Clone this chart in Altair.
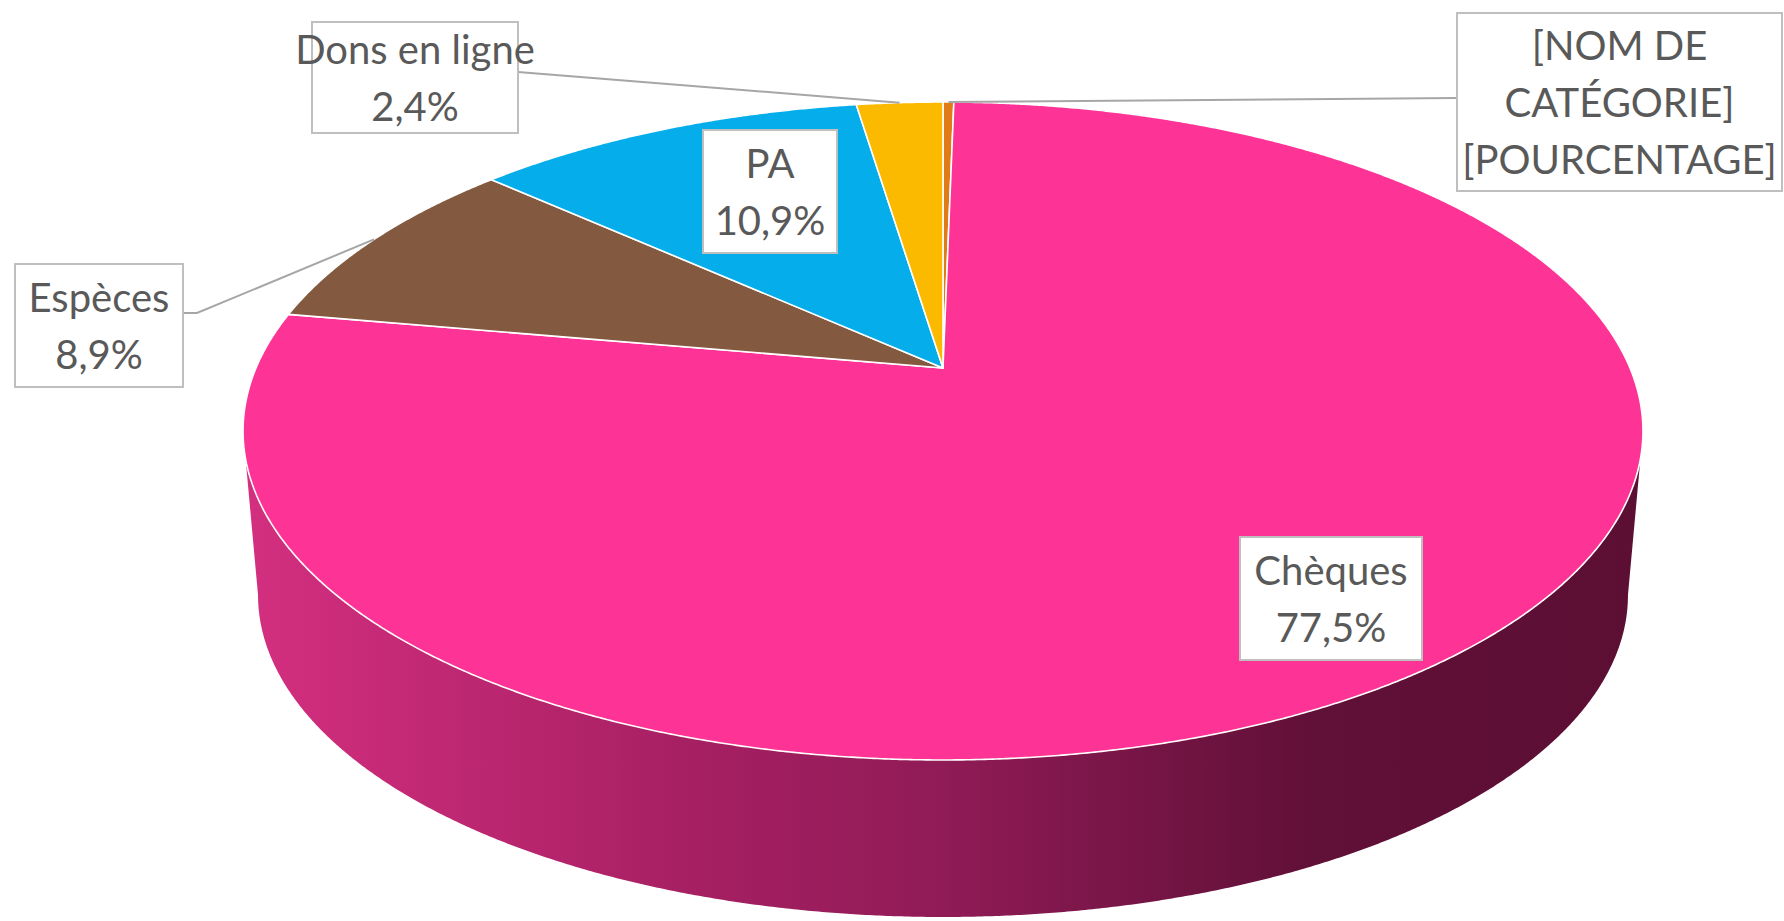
import math
import altair as alt
import pandas as pd

# ---------------- data ----------------
categories = ["[NOM DE CATÉGORIE]", "Chèques", "Espèces", "PA", "Dons en ligne"]
values = [0.3, 77.5, 8.9, 10.9, 2.4]
colors = ["#E07B18", "#FD3396", "#835A3F", "#05AEEA", "#FBBA00"]
label_lines = [
    ["[NOM DE", "CATÉGORIE]", "[POURCENTAGE]"],
    ["Chèques", "77,5%"],
    ["Espèces", "8,9%"],
    ["PA", "10,9%"],
    ["Dons en ligne", "2,4%"],
]

# ---------------- layout (pixels, not data) ----------------
W, H = 1784, 921
CX = 943.0            # apex x
CY_TOP = 368.0        # apex y of top face
CY_BOT = 533.4        # apex y of bottom face
F, G, P = 687.0, 316.9, 0.1915   # perspective projection parameters
S_BOT = 0.9786        # bottom face scale (further from camera)
STEP = 0.25           # degrees per arc point

box_x0 = [1457, 1240, 15, 703, 312]
box_x1 = [1782, 1422, 183, 837, 518]
box_y0 = [13, 537, 264, 130, 22]
box_y1 = [191, 660, 387, 253, 133]
leader_from = [[(1457, 98)], [], [(183, 313), (197, 313)], [], [(518, 72)]]
LINE_H = 57
BASE_OFF = 15


def proj(phi_deg, bottom=False):
    r = math.radians(phi_deg)
    u, v = math.sin(r), math.cos(r)
    d = 1 + P * v
    s = S_BOT if bottom else 1.0
    y0 = CY_BOT if bottom else CY_TOP
    return CX + s * F * u / d, y0 - s * G * v / d


# slices of the top face
slice_rows = []
leader_rows = []
start = 0.0
for ci, (cat, val) in enumerate(zip(categories, values)):
    a0 = start / 100 * 360
    a1 = (start + val) / 100 * 360
    start += val
    idx = 0
    slice_rows.append({"cat": cat, "i": idx, "x": CX, "y": CY_TOP})
    n = max(2, int((a1 - a0) / STEP) + 1)
    for k in range(n + 1):
        idx += 1
        x, y = proj(a0 + (a1 - a0) * k / n)
        slice_rows.append({"cat": cat, "i": idx, "x": x, "y": y})
    if leader_from[ci]:
        mx, my = proj((a0 + a1) / 2)
        pts = leader_from[ci] + [(mx, my)]
        for j, (lx, ly) in enumerate(pts):
            leader_rows.append({"cat": cat, "i": j, "x": lx, "y": ly})
slices = pd.DataFrame(slice_rows)
leaders = pd.DataFrame(leader_rows)

# side wall (visible front part of the cylinder)
phi_l = math.degrees(math.acos(-P))
phi_r = 360 - phi_l
wall_rows = []
n = int((phi_r - phi_l) / STEP)
idx = 0
for k in range(n + 1):
    x, y = proj(phi_l + (phi_r - phi_l) * k / n)
    wall_rows.append({"i": idx, "x": x, "y": y}); idx += 1
for k in range(n + 1):
    x, y = proj(phi_r - (phi_r - phi_l) * k / n, bottom=True)
    wall_rows.append({"i": idx, "x": x, "y": y}); idx += 1
wall = pd.DataFrame(wall_rows)

boxes = pd.DataFrame({"cat": categories, "x0": box_x0, "x1": box_x1,
                      "y0": box_y0, "y1": box_y1})
text_rows = []
for cat, lines, x0, x1, y0, y1 in zip(categories, label_lines, box_x0, box_x1, box_y0, box_y1):
    cx = (x0 + x1) / 2
    cy = (y0 + y1) / 2
    nl = len(lines)
    for j, t in enumerate(lines):
        text_rows.append({"t": t, "x": cx, "y": cy + BASE_OFF + (j - (nl - 1) / 2) * LINE_H})
texts = pd.DataFrame(text_rows)

xs = alt.Scale(domain=[0, W], nice=False, zero=False)
ys = alt.Scale(domain=[0, H], nice=False, zero=False, reverse=True)
X = lambda f="x": alt.X(f"{f}:Q", scale=xs, axis=None)
Y = lambda f="y": alt.Y(f"{f}:Q", scale=ys, axis=None)

wall_grad = {
    "gradient": "linear", "x1": 0, "x2": 1, "y1": 0, "y2": 0,
    "stops": [
        {"offset": 0.0, "color": "#D42F80"},
        {"offset": 0.33, "color": "#A51F62"},
        {"offset": 0.5, "color": "#901B56"},
        {"offset": 0.76, "color": "#611038"},
        {"offset": 1.0, "color": "#5C0E33"},
    ],
}

wall_layer = alt.Chart(wall).mark_line(
    fill=wall_grad, strokeOpacity=0, interpolate="linear-closed"
).encode(x=X(), y=Y(), order="i:Q")

slice_layer = alt.Chart(slices).mark_line(
    stroke="white", strokeWidth=1.6, interpolate="linear-closed", strokeJoin="round"
).encode(
    x=X(), y=Y(), order="i:Q",
    fill=alt.Fill("cat:N", scale=alt.Scale(domain=categories, range=colors), legend=None),
    detail="cat:N",
)

leader_layer = alt.Chart(leaders).mark_line(
    stroke="#A6A6A6", strokeWidth=2
).encode(x=X(), y=Y(), order="i:Q", detail="cat:N")

box_layer = alt.Chart(boxes).mark_rect(
    fill="white", stroke="#BFBFBF", strokeWidth=2
).encode(x=X("x0"), x2="x1:Q", y=Y("y0"), y2="y1:Q")

text_layer = alt.Chart(texts).mark_text(
    font="Lato", fontSize=40, color="#595959", align="center", baseline="alphabetic"
).encode(x=X(), y=Y(), text="t:N")

chart = alt.layer(wall_layer, slice_layer, leader_layer, box_layer, text_layer).properties(
    width=W, height=H, padding=0, autosize=alt.AutoSizeParams(type="none"),
    background="white",
).configure_view(stroke=None)

chart.save("out.html", embed_options={"renderer": "svg", "actions": False})
